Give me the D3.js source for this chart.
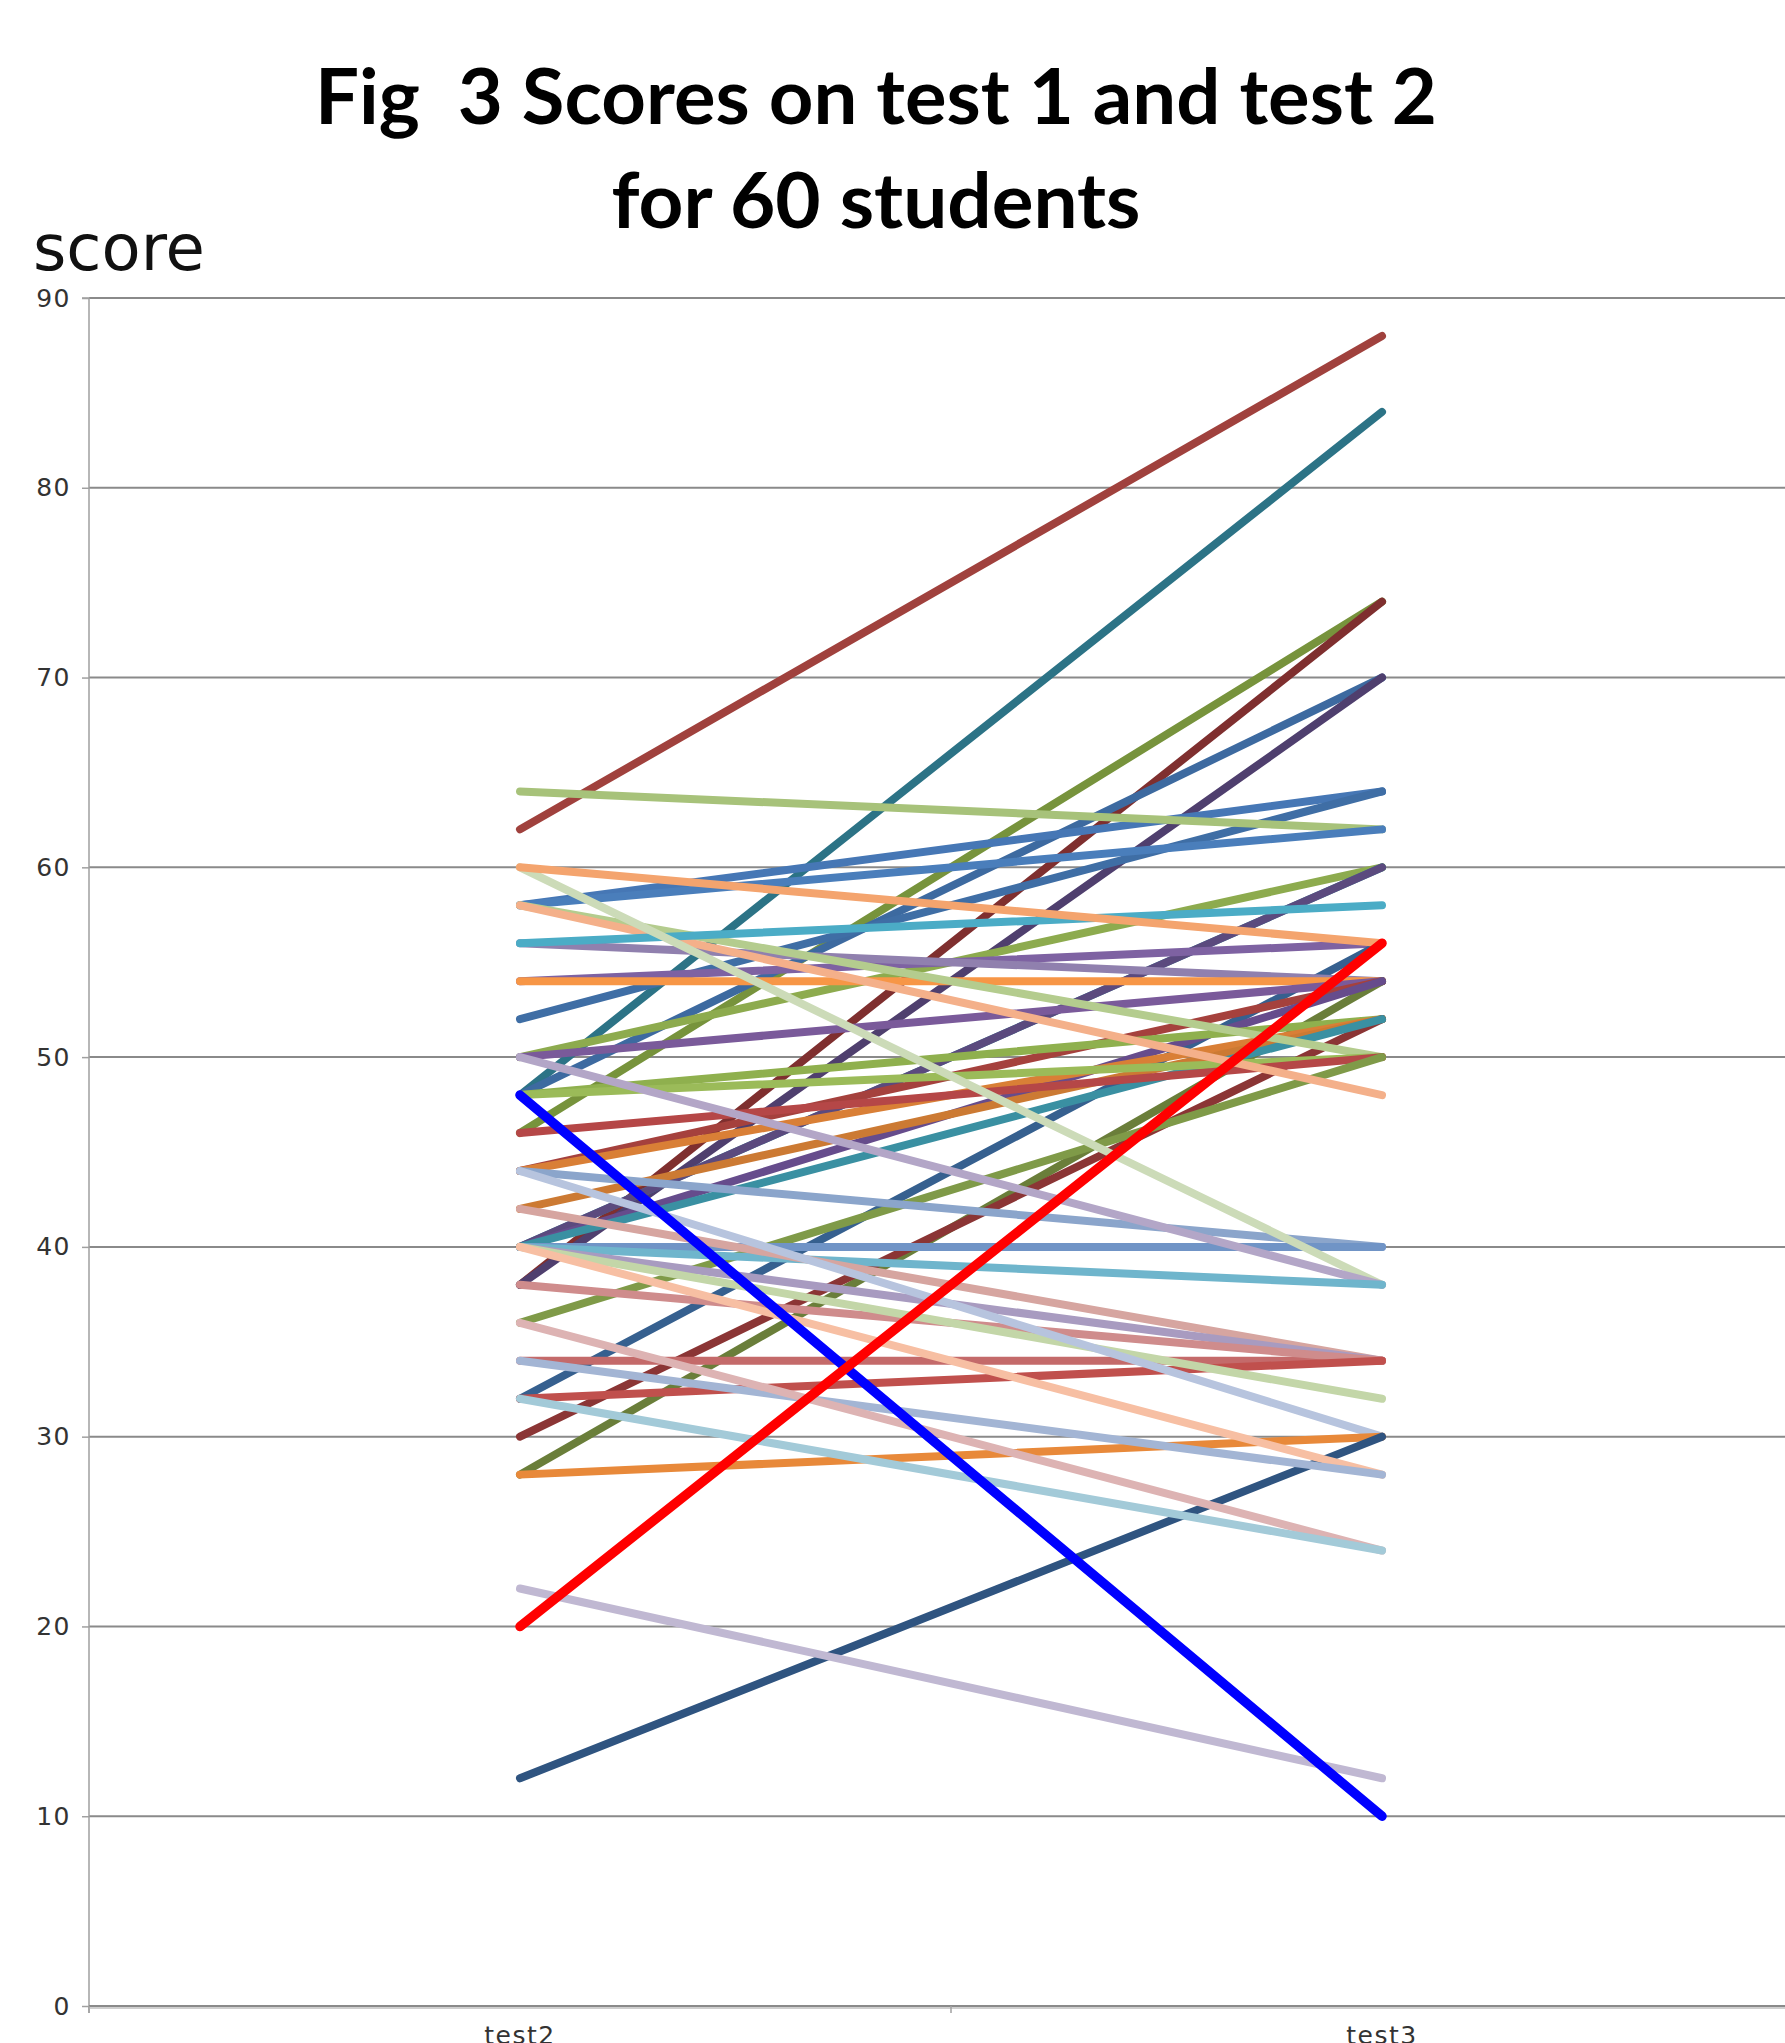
<!DOCTYPE html>
<html>
<head>
<meta charset="utf-8">
<script src="https://cdn.jsdelivr.net/npm/d3@7"></script>
<style>
  html, body { margin: 0; padding: 0; background: #fff; }
  svg { display: block; }
</style>
</head>
<body>
<svg id="chart" width="1785" height="2043"></svg>
<script>
// Two test occasions on the category axis
const categories = ["test2", "test3"];

// Score of each student on the first and second test (same index = same student)
const scoresTest2 = [
  62, 48, 46, 38, 48, 38, 58, 52, 64, 58,
  50, 40, 40, 54, 32, 56, 54, 50, 44, 28,
  40, 48, 44, 42, 30, 40, 58, 48, 46, 36,
  58, 56, 44, 40, 60, 50, 40, 42, 40, 34,
  38, 32, 40, 44, 28, 12, 40, 34, 36, 32,
  22, 60
];
const scoresTest3 = [
  88, 84, 74, 74, 70, 70, 64, 64, 62, 62,
  60, 60, 60, 56, 56, 54, 54, 54, 54, 54,
  54, 52, 52, 52, 52, 52, 50, 50, 50, 50,
  48, 58, 40, 40, 38, 38, 38, 34, 34, 34,
  34, 34, 32, 30, 30, 30, 28, 28, 24, 24,
  12, 56
];
const lineColors = [
  "#A0413D", "#2C7386", "#77933C", "#7F2F2F", "#3D6AA0", "#4F3F6E", "#4677B5", "#3F6EA5", "#A7C27A", "#4A7EBB",
  "#8DAB4E", "#31849B", "#5B4A7E", "#7E62A2", "#36608F", "#9080AE", "#F79646", "#7A5A9A", "#A5413D", "#6A7E3A",
  "#664C8C", "#8FB04E", "#D97F36", "#CC7A33", "#8B3535", "#3A90A2", "#B4CC8E", "#9BBB59", "#B54747", "#7F9A48",
  "#F4B08A", "#4BACC6", "#8BA5CB", "#7094C6", "#CCDBB8", "#B3A6C7", "#6FB5CC", "#D6A5A0", "#A89BC0", "#C46A6A",
  "#CF8C8C", "#C0504D", "#C3D6A8", "#B7C4DE", "#E8893A", "#2F5480", "#F7BFA3", "#A3B5D4", "#DDB3B3", "#A3CAD8",
  "#C0B8D2", "#F4A46E"
];

// Two highlighted students, drawn on top with heavier strokes
const highlightTest2 = [48, 20];
const highlightTest3 = [10, 56];
const highlightColors = ["#0000FF", "#FF0000"];

const yTicks = [0, 10, 20, 30, 40, 50, 60, 70, 80, 90];
const titleLines = ["Fig  3 Scores on test 1 and test 2", "for 60 students"];
const yAxisTitle = "score";

const svg = d3.select("#chart");

const x = d3.scaleBand().domain(categories).range([89, 1813]);
const y = d3.scaleLinear().domain([0, 90]).range([2006, 298]);
const cx = c => x(c) + x.bandwidth() / 2;

// Horizontal gridlines
svg.append("g")
  .selectAll("line")
  .data(yTicks.filter(t => t > 0))
  .join("line")
  .attr("x1", x.range()[0]).attr("x2", x.range()[1])
  .attr("y1", d => y(d)).attr("y2", d => y(d))
  .attr("stroke", "#8a8a8a").attr("stroke-width", 2);

// Y axis
const yAxis = d3.axisLeft(y).tickValues(yTicks).tickSize(7).tickPadding(11);
const gy = svg.append("g").attr("transform", `translate(${x.range()[0]},0)`).call(yAxis);
gy.select(".domain").attr("stroke", "#a0a0a0").attr("stroke-width", 1.5)
  .attr("d", `M-7,${y(90)}H0V${y(0) + 7}`);
gy.selectAll(".tick line").attr("stroke", "#a0a0a0").attr("stroke-width", 1.5);
gy.selectAll(".tick text")
  .attr("font-family", "DejaVu Sans, sans-serif")
  .attr("font-size", 25)
  .attr("letter-spacing", 1.5)
  .attr("fill", "#333");

// Category (x) axis
const xAxis = d3.axisBottom(x).tickSize(0).tickPadding(0);
const gx = svg.append("g").attr("transform", `translate(0,${y(0)})`).call(xAxis);
gx.select(".domain").remove();
gx.selectAll(".tick text")
  .attr("font-family", "DejaVu Sans, sans-serif")
  .attr("font-size", 25)
  .attr("letter-spacing", 1.5)
  .attr("fill", "#333")
  .attr("dy", null)
  .attr("y", 38);

// Baseline with a soft lower edge
svg.append("line")
  .attr("x1", x.range()[0]).attr("x2", x.range()[1])
  .attr("y1", y(0) + 2).attr("y2", y(0) + 2)
  .attr("stroke", "#cfcfcf").attr("stroke-width", 2);
svg.append("line")
  .attr("x1", x.range()[0]).attr("x2", x.range()[1])
  .attr("y1", y(0)).attr("y2", y(0))
  .attr("stroke", "#8a8a8a").attr("stroke-width", 2);

// Category boundary tick marks
svg.append("g")
  .selectAll("line")
  .data(x.range().concat([x(categories[1])]))
  .join("line")
  .attr("x1", d => d).attr("x2", d => d)
  .attr("y1", y(0)).attr("y2", y(0) + 7)
  .attr("stroke", "#a0a0a0").attr("stroke-width", 1.5);

// One line per student
const line = d3.line().x(d => cx(d.cat)).y(d => y(d.v));
const students = scoresTest2.map((v, i) => ({
  pts: [{ cat: categories[0], v }, { cat: categories[1], v: scoresTest3[i] }],
  color: lineColors[i]
}));
svg.append("g")
  .selectAll("path")
  .data(students)
  .join("path")
  .attr("d", d => line(d.pts))
  .attr("fill", "none")
  .attr("stroke", d => d.color)
  .attr("stroke-width", 8)
  .attr("stroke-linecap", "round");

const highlighted = highlightTest2.map((v, i) => ({
  pts: [{ cat: categories[0], v }, { cat: categories[1], v: highlightTest3[i] }],
  color: highlightColors[i]
}));
svg.append("g")
  .selectAll("path")
  .data(highlighted)
  .join("path")
  .attr("d", d => line(d.pts))
  .attr("fill", "none")
  .attr("stroke", d => d.color)
  .attr("stroke-width", 9.5)
  .attr("stroke-linecap", "round");

// Titles
svg.append("g")
  .selectAll("text")
  .data(titleLines)
  .join("text")
  .attr("x", 876)
  .attr("y", (d, i) => i === 0 ? 124 : 228)
  .attr("text-anchor", "middle")
  .attr("font-family", "Lato, 'Open Sans', sans-serif")
  .attr("font-weight", 700)
  .attr("font-size", 76)
  .attr("textLength", (d, i) => i === 0 ? 1122 : 529)
  .attr("lengthAdjust", "spacingAndGlyphs")
  .style("white-space", "pre")
  .attr("fill", "#000")
  .text(d => d);

svg.append("text")
  .attr("x", 33).attr("y", 270)
  .attr("font-family", "DejaVu Sans, sans-serif")
  .attr("font-size", 64)
  .attr("fill", "#111")
  .text(yAxisTitle);
</script>
</body>
</html>
